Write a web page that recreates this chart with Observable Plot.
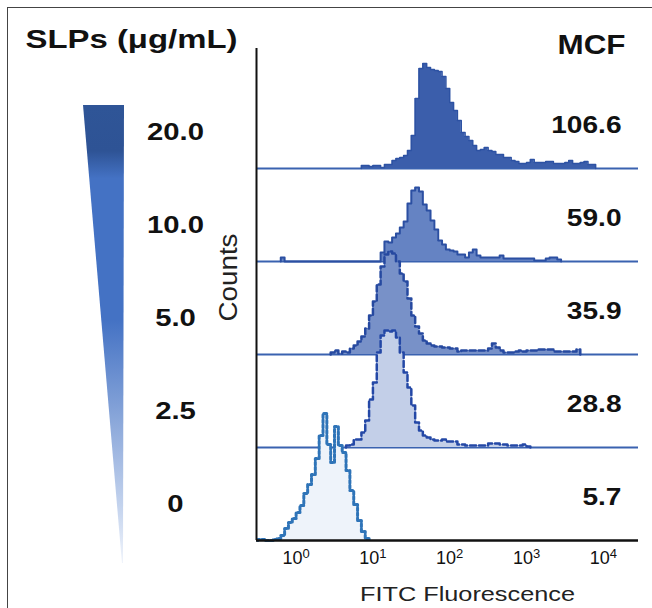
<!DOCTYPE html>
<html><head><meta charset="utf-8">
<script src="https://cdn.jsdelivr.net/npm/d3@7"></script>
<script src="https://cdn.jsdelivr.net/npm/@observablehq/plot@0.6"></script>
<style>
html,body{margin:0;padding:0;background:#fff;}
#fig{position:relative;width:652px;height:608px;overflow:hidden;background:#fff;}
#fig .frame{position:absolute;left:7px;top:7px;width:700px;height:700px;border-top:1.5px solid #444;border-left:1.5px solid #444;}
#fig svg{position:absolute;left:0;top:0;}
</style></head><body><div id="fig"><div class="frame"></div></div>
<script>
// ---- data ----
const concentrations = ["20.0", "10.0", "5.0", "2.5", "0"];        // SLPs (µg/mL)
const mfiLabels = ["106.6", "59.0", "35.9", "28.8", "5.7"];          // mean FITC fluorescence
const xTicks = [1, 10, 100, 1000, 10000];
const binWidth = 0.05;                                               // decades per histogram bin
const binStarts = [0.85, -0.2, 0.45, 0.65, -0.5];                    // log10 of first bin edge
const counts20 = [3,3,2,3,3,1,4,4,8,10,11,13,18,33,70,100,105,101,99,98,97,92,80,66,58,48,36,32,28,23,18,19,21,18,17,14,14,11,11,8,7,5,5,6,9,6,6,6,7,7,5,5,5,6,8,5,5,6,7,4,4];
const counts10 = [4,0,0,0,0,0,0,0,0,0,0,0,0,0,0,0,0,0,0,0,0,0,0,0,0,0,9,20,19,24,28,34,40,58,71,74,70,57,51,41,32,21,17,12,11,10,7,7,4,9,12,6,4,4,4,4,4,6,3,3,3,3,3,3,3,3,1,1,1,3,4,4,2];
const counts5  = [2,4,1,3,2,6,9,13,18,26,39,53,70,88,100,103,101,93,81,73,56,39,28,21,14,11,9,8,8,7,7,6,6,3,4,4,4,4,4,4,4,6,11,7,4,2,2,2,3,4,3,4,4,4,5,5,5,5,3,3,3,3,3,3,5];
const counts25 = [2,3,8,8,15,27,48,65,95,112,117,116,117,110,95,75,60,42,25,17,12,10,8,7,7,8,6,6,6,3,3,2,2,2,2,2,2,4,4,4,3,3,2,2,2,2,3,1];
const counts0  = [1,1,0,0,1,2,5,12,18,22,28,35,47,56,66,82,105,127,96,78,114,95,88,70,50,36,20,9,2];
const series = [counts20, counts10, counts5, counts25, counts0];

// ---- styles ----
const FONT = "'Liberation Sans', Arial, Helvetica, sans-serif";
const rowGap = 93;
const fills   = ["#3b5eab", "#6583c3", "#7891c8", "#c3cfe8", "#eef3fa"];
const strokes = ["#2d52a3", "#2b4fa2", "#2649a0", "#2448a6", "#2f74b8"];
const dashes  = [undefined, undefined, "6,3", "6,3", "3,2"];
const widths  = [1.5, 2, 2.5, 2.5, 3];

const rows = series.map((c, i) => {
  const base = (series.length - 1 - i) * rowGap;
  const pts = [{x: 10 ** binStarts[i], y: base}];
  c.forEach((v, j) => pts.push({x: 10 ** (binStarts[i] + j * binWidth), y: base + v}));
  pts.push({x: 10 ** (binStarts[i] + c.length * binWidth), y: base});
  return {i, base, pts, conc: concentrations[i], mfi: mfiLabels[i]};
});

const xDomain = [10 ** -0.516, 10 ** 4.458];

const main = Plot.plot({
  width: 652, height: 608,
  marginLeft: 256, marginRight: 14, marginTop: 48, marginBottom: 68,
  style: {fontFamily: FONT, background: "transparent", overflow: "visible", color: "#111"},
  x: {type: "log", domain: xDomain},
  y: {domain: [0, 492], axis: null},
  marks: [
    Plot.ruleY(rows.slice(0, 4), {y: "base", stroke: "#3a62b0", strokeWidth: 2}),
    ...rows.flatMap(r => [
      Plot.areaY(r.pts, {x: "x", y1: r.base, y2: "y", curve: "step-after", fill: fills[r.i]}),
      Plot.lineY(r.pts, {x: "x", y: "y", curve: "step-after", stroke: strokes[r.i], strokeWidth: widths[r.i], strokeDasharray: dashes[r.i]})
    ]),
    Plot.ruleY([0], {stroke: "#111", strokeWidth: 2.5}),
    Plot.ruleX([xDomain[0]], {stroke: "#111", strokeWidth: 2}),
    Plot.axisX({ticks: xTicks, tickFormat: d => "10^" + Math.round(Math.log10(d)), tickSize: 0, tickPadding: 11, fontSize: 18, label: null, color: "#111"}),
    Plot.text(rows, {y: d => d.base + 43, text: "mfi", frameAnchor: "right", dx: -17, textAnchor: "end", lineAnchor: "middle", fontSize: 24, fontWeight: "bold", fill: "#111"}),
    Plot.text(["MCF"], {text: d => d, frameAnchor: "top-right", dx: -13, dy: -3, textAnchor: "end", lineAnchor: "middle", fontSize: 27, fontWeight: "bold", fill: "#111"}),
    Plot.text(["Counts"], {text: d => d, frameAnchor: "left", dx: -28, dy: -17, rotate: -90, textAnchor: "middle", lineAnchor: "middle", fontSize: 25, fill: "#222"}),
    Plot.text(["FITC Fluorescence"], {text: d => d, frameAnchor: "bottom", dx: 20, dy: 54, textAnchor: "middle", lineAnchor: "middle", fontSize: 21, fill: "#222"})
  ]
});

const wedge = [{y: 435, x1: 0, x2: 1}, {y: -23, x1: 0.95, x2: 0.975}];
const legend = Plot.plot({
  width: 250, height: 608, margin: 0,
  style: {fontFamily: FONT, background: "transparent", overflow: "visible", color: "#111"},
  x: {domain: [0, 1], range: [83, 124], axis: null},
  y: {domain: [0, 492], range: [540, 48], axis: null},
  marks: [
    Plot.areaX(wedge, {y: "y", x1: "x1", x2: "x2", fill: "url(#slpGrad)"}),
    Plot.text(rows, {y: d => d.base + 36, text: "conc", frameAnchor: "left", dx: 175, textAnchor: "middle", lineAnchor: "middle", fontSize: 24, fontWeight: "bold", fill: "#111"}),
    Plot.text(["SLPs (μg/mL)"], {text: d => d, frameAnchor: "top-left", dx: 25, dy: 39, textAnchor: "start", lineAnchor: "middle", fontSize: 25, fontWeight: "bold", fill: "#111"})
  ]
});

const grad = d3.select(legend).insert("defs", ":first-child").append("linearGradient")
  .attr("id", "slpGrad").attr("x1", 0).attr("y1", 0).attr("x2", 0).attr("y2", 1);
[[0, "#2f5597"], [0.1, "#2e5395"], [0.16, "#4472c4"], [0.47, "#4472c4"], [0.7, "#8eaadb"], [0.88, "#c5d4ee"], [1, "#f0f4fb"]]
  .forEach(([o, c]) => grad.append("stop").attr("offset", o).attr("stop-color", c));

const fig = document.getElementById("fig");
fig.appendChild(legend);
fig.appendChild(main);

// tick labels: 10 with a raised exponent
for (const t of main.querySelectorAll("text")) {
  const m = /^10\^(\d)$/.exec(t.textContent);
  if (!m) continue;
  t.textContent = "10";
  t.setAttribute("font-size", 18);
  t.style.fontSize = "18px";
  d3.select(t).append("tspan").attr("dy", "-6").style("font-size", "13px").text(m[1]);
}

// widen the bold labels to match the reference's letter proportions
const fixedWidths = {"SLPs (μg/mL)": 212, "MCF": 68, "FITC Fluorescence": 215, "Counts": 88};
for (const t of fig.querySelectorAll("text")) {
  const s = t.textContent;
  let target = null;
  if (s in fixedWidths) target = fixedWidths[s];
  else if (mfiLabels.includes(s)) target = t.getComputedTextLength() * 1.17;
  else if (concentrations.includes(s)) target = t.getComputedTextLength() * 1.22;
  if (target) { t.setAttribute("textLength", target); t.setAttribute("lengthAdjust", "spacingAndGlyphs"); }
}
</script></body></html>
